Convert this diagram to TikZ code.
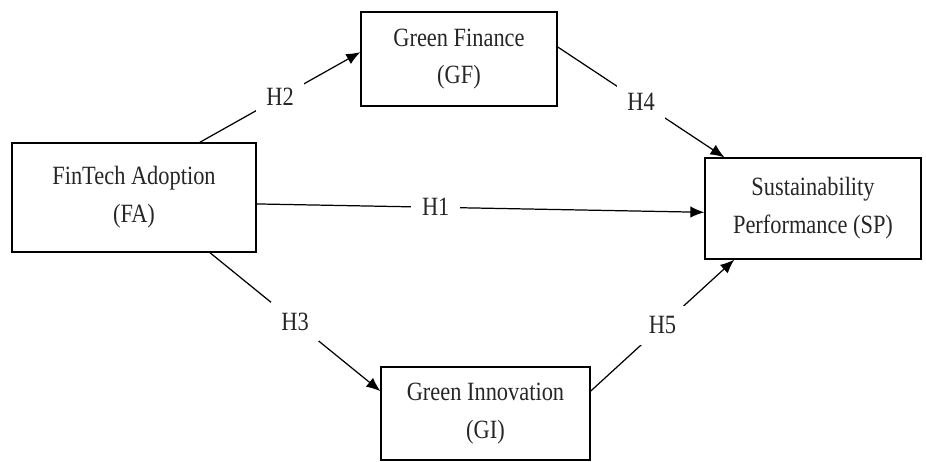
\documentclass[tikz,border=0pt]{standalone}
\usepackage{fontspec}
\setmainfont[FakeStretch=0.85]{Liberation Serif}
\usepackage{tikz}
\usetikzlibrary{shapes,arrows.meta,calc}
\tikzset{every picture/.style={>={Latex[length=8pt,width=6.5pt]}},label/.style={fill=white,inner sep=6pt}}

\begin{document}
\begin{tikzpicture}[x=0.02cm,y=-0.02cm,line width=0.7pt,
  box/.style={draw,rectangle,align=center,inner sep=0pt},
  every node/.append style={font=\fontsize{15}{21.5}\selectfont,text=black!85}]
  \useasboundingbox (0,0) rectangle (926,461);
  \node (fa) [box,minimum width=4.88cm,minimum height=2.18cm] at (134,197.5) {FinTech Adoption\\(FA)};
  \node (gf) [box,minimum width=3.92cm,minimum height=1.88cm] at (459,59) {Green Finance\\(GF)};
  \node (sp) [box,minimum width=4.32cm,minimum height=2.02cm] at (813,208.5) {Sustainability\\Performance (SP)};
  \node (gi) [box,minimum width=4.18cm,minimum height=1.86cm] at (485.5,413.5) {Green Innovation\\(GI)};
  \draw [->] (fa.40) to node[label] {H2} (gf.176);
  \draw [->] (gf.7) to node[label] {H4} (sp.150);
  \draw [->] (fa.-3) to node[label,pos=0.4] {H1} (sp.182);
  \draw [->] (fa.-36) to node[label] {H3} (gi.168);
  \draw [->] (gi.12) to node[label] {H5} (sp.213);
\end{tikzpicture}
\end{document}
